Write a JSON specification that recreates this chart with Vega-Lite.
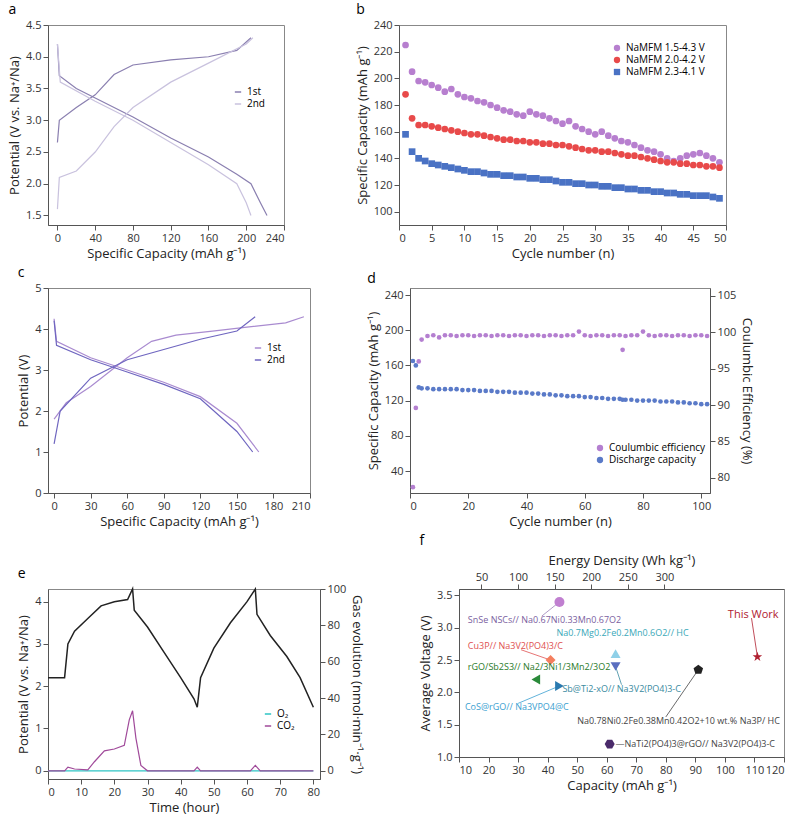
{
"$schema":"https://vega.github.io/schema/vega-lite/v6.json",
"padding":{"left":8,"top":2,"right":2,"bottom":2},
"spacing":4,
"resolve":{"scale":{"color":"independent","shape":"independent"}},
"config":{"font":"Open Sans","view":{"stroke":"#888"},"axis":{"grid":false,"labelFontSize":11,"titleFontSize":13,"titleFontWeight":"normal","tickColor":"#555","domainColor":"#555","labelColor":"#333","titleColor":"#222","titlePadding":4},"title":{"fontSize":14,"fontWeight":"normal","anchor":"start","offset":2},"legend":{"labelFontSize":10,"symbolSize":40,"rowPadding":2}},
"datasets":{
"a":[
{"s":"1st","g":"1c","o":0,"x":0,"y":2.65},{"s":"1st","g":"1c","o":1,"x":2,"y":3.0},{"s":"1st","g":"1c","o":2,"x":20,"y":3.2},{"s":"1st","g":"1c","o":3,"x":40,"y":3.4},{"s":"1st","g":"1c","o":4,"x":60,"y":3.72},{"s":"1st","g":"1c","o":5,"x":80,"y":3.87},{"s":"1st","g":"1c","o":6,"x":120,"y":3.95},{"s":"1st","g":"1c","o":7,"x":160,"y":4.0},{"s":"1st","g":"1c","o":8,"x":190,"y":4.1},{"s":"1st","g":"1c","o":9,"x":205,"y":4.3},
{"s":"1st","g":"1d","o":0,"x":0,"y":4.2},{"s":"1st","g":"1d","o":1,"x":2,"y":3.7},{"s":"1st","g":"1d","o":2,"x":20,"y":3.5},{"s":"1st","g":"1d","o":3,"x":40,"y":3.35},{"s":"1st","g":"1d","o":4,"x":80,"y":3.05},{"s":"1st","g":"1d","o":5,"x":120,"y":2.72},{"s":"1st","g":"1d","o":6,"x":160,"y":2.42},{"s":"1st","g":"1d","o":7,"x":190,"y":2.15},{"s":"1st","g":"1d","o":8,"x":205,"y":2.0},{"s":"1st","g":"1d","o":9,"x":215,"y":1.7},{"s":"1st","g":"1d","o":10,"x":222,"y":1.5},
{"s":"2nd","g":"2c","o":0,"x":0,"y":1.6},{"s":"2nd","g":"2c","o":1,"x":2,"y":2.1},{"s":"2nd","g":"2c","o":2,"x":20,"y":2.2},{"s":"2nd","g":"2c","o":3,"x":40,"y":2.5},{"s":"2nd","g":"2c","o":4,"x":60,"y":2.9},{"s":"2nd","g":"2c","o":5,"x":80,"y":3.2},{"s":"2nd","g":"2c","o":6,"x":120,"y":3.6},{"s":"2nd","g":"2c","o":7,"x":160,"y":3.9},{"s":"2nd","g":"2c","o":8,"x":200,"y":4.2},{"s":"2nd","g":"2c","o":9,"x":207,"y":4.3},
{"s":"2nd","g":"2d","o":0,"x":0,"y":4.2},{"s":"2nd","g":"2d","o":1,"x":3,"y":3.6},{"s":"2nd","g":"2d","o":2,"x":40,"y":3.3},{"s":"2nd","g":"2d","o":3,"x":80,"y":3.0},{"s":"2nd","g":"2d","o":4,"x":120,"y":2.65},{"s":"2nd","g":"2d","o":5,"x":160,"y":2.3},{"s":"2nd","g":"2d","o":6,"x":190,"y":2.0},{"s":"2nd","g":"2d","o":7,"x":200,"y":1.7},{"s":"2nd","g":"2d","o":8,"x":205,"y":1.5}],
"c":[
{"s":"1st","g":"1c","o":0,"x":0,"y":1.8},{"s":"1st","g":"1c","o":1,"x":10,"y":2.2},{"s":"1st","g":"1c","o":2,"x":30,"y":2.6},{"s":"1st","g":"1c","o":3,"x":60,"y":3.3},{"s":"1st","g":"1c","o":4,"x":80,"y":3.7},{"s":"1st","g":"1c","o":5,"x":100,"y":3.85},{"s":"1st","g":"1c","o":6,"x":130,"y":3.95},{"s":"1st","g":"1c","o":7,"x":160,"y":4.05},{"s":"1st","g":"1c","o":8,"x":190,"y":4.15},{"s":"1st","g":"1c","o":9,"x":205,"y":4.3},
{"s":"1st","g":"1d","o":0,"x":0,"y":4.25},{"s":"1st","g":"1d","o":1,"x":2,"y":3.7},{"s":"1st","g":"1d","o":2,"x":30,"y":3.3},{"s":"1st","g":"1d","o":3,"x":60,"y":3.0},{"s":"1st","g":"1d","o":4,"x":90,"y":2.7},{"s":"1st","g":"1d","o":5,"x":120,"y":2.35},{"s":"1st","g":"1d","o":6,"x":150,"y":1.7},{"s":"1st","g":"1d","o":7,"x":168,"y":1.0},
{"s":"2nd","g":"2c","o":0,"x":0,"y":1.2},{"s":"2nd","g":"2c","o":1,"x":5,"y":2.0},{"s":"2nd","g":"2c","o":2,"x":30,"y":2.8},{"s":"2nd","g":"2c","o":3,"x":60,"y":3.25},{"s":"2nd","g":"2c","o":4,"x":90,"y":3.5},{"s":"2nd","g":"2c","o":5,"x":120,"y":3.75},{"s":"2nd","g":"2c","o":6,"x":150,"y":3.95},{"s":"2nd","g":"2c","o":7,"x":165,"y":4.3},
{"s":"2nd","g":"2d","o":0,"x":0,"y":4.2},{"s":"2nd","g":"2d","o":1,"x":2,"y":3.6},{"s":"2nd","g":"2d","o":2,"x":30,"y":3.25},{"s":"2nd","g":"2d","o":3,"x":60,"y":2.95},{"s":"2nd","g":"2d","o":4,"x":90,"y":2.65},{"s":"2nd","g":"2d","o":5,"x":120,"y":2.3},{"s":"2nd","g":"2d","o":6,"x":150,"y":1.5},{"s":"2nd","g":"2d","o":7,"x":163,"y":1.0}],
"b":[
{"n":1,"p":225,"r":188,"b":158},{"n":2,"p":205,"r":170,"b":145},{"n":3,"p":198,"r":165,"b":140},{"n":4,"p":197,"r":165,"b":138},{"n":5,"p":195,"r":164,"b":136},{"n":6,"p":193,"r":163,"b":135},{"n":7,"p":190,"r":162,"b":134},{"n":8,"p":192,"r":161,"b":133},{"n":9,"p":188,"r":160,"b":132},{"n":10,"p":186,"r":159,"b":131},
{"n":11,"p":185,"r":158,"b":130},{"n":12,"p":183,"r":158,"b":130},{"n":13,"p":182,"r":157,"b":129},{"n":14,"p":180,"r":156,"b":128},{"n":15,"p":178,"r":155,"b":128},{"n":16,"p":176,"r":154,"b":127},{"n":17,"p":175,"r":154,"b":127},{"n":18,"p":173,"r":153,"b":126},{"n":19,"p":172,"r":153,"b":126},{"n":20,"p":175,"r":152,"b":125},
{"n":21,"p":173,"r":152,"b":125},{"n":22,"p":172,"r":151,"b":124},{"n":23,"p":170,"r":151,"b":124},{"n":24,"p":168,"r":150,"b":123},{"n":25,"p":166,"r":150,"b":122},{"n":26,"p":168,"r":149,"b":122},{"n":27,"p":164,"r":148,"b":121},{"n":28,"p":162,"r":147,"b":121},{"n":29,"p":160,"r":146,"b":120},{"n":30,"p":158,"r":146,"b":120},
{"n":31,"p":160,"r":145,"b":119},{"n":32,"p":157,"r":145,"b":119},{"n":33,"p":155,"r":144,"b":118},{"n":34,"p":153,"r":143,"b":118},{"n":35,"p":152,"r":142,"b":117},{"n":36,"p":150,"r":142,"b":117},{"n":37,"p":148,"r":141,"b":116},{"n":38,"p":146,"r":140,"b":116},{"n":39,"p":145,"r":139,"b":115},{"n":40,"p":143,"r":138,"b":115},
{"n":41,"p":140,"r":137,"b":114},{"n":42,"p":138,"r":137,"b":114},{"n":43,"p":140,"r":136,"b":113},{"n":44,"p":142,"r":136,"b":113},{"n":45,"p":143,"r":135,"b":112},{"n":46,"p":144,"r":135,"b":112},{"n":47,"p":142,"r":134,"b":112},{"n":48,"p":140,"r":134,"b":111},{"n":49,"p":137,"r":133,"b":110}],
"e":[
{"o":0,"t":0,"v":2.2},{"o":1,"t":5,"v":2.2},{"o":2,"t":6,"v":3.0},{"o":3,"t":8,"v":3.3},{"o":4,"t":12,"v":3.6},{"o":5,"t":16,"v":3.9},{"o":6,"t":20,"v":4.0},{"o":7,"t":24,"v":4.05},{"o":8,"t":25.5,"v":4.3},{"o":9,"t":26,"v":3.8},{"o":10,"t":30,"v":3.4},{"o":11,"t":35,"v":2.8},{"o":12,"t":40,"v":2.2},{"o":13,"t":44,"v":1.7},{"o":14,"t":45,"v":1.5},{"o":15,"t":46,"v":2.2},{"o":16,"t":50,"v":2.9},{"o":17,"t":55,"v":3.5},{"o":18,"t":60,"v":4.0},{"o":19,"t":62.5,"v":4.3},{"o":20,"t":63,"v":3.7},{"o":21,"t":67,"v":3.2},{"o":22,"t":72,"v":2.7},{"o":23,"t":76,"v":2.2},{"o":24,"t":80,"v":1.5}],
"g":[
{"s":"O₂","o":0,"t":0,"v":0},{"s":"O₂","o":1,"t":80,"v":0},
{"s":"CO₂","o":0,"t":0,"v":0},{"s":"CO₂","o":1,"t":5,"v":0},{"s":"CO₂","o":2,"t":6,"v":2},{"s":"CO₂","o":3,"t":8,"v":1},{"s":"CO₂","o":4,"t":12,"v":0.5},{"s":"CO₂","o":5,"t":14,"v":5},{"s":"CO₂","o":6,"t":17,"v":11},{"s":"CO₂","o":7,"t":20,"v":12},{"s":"CO₂","o":8,"t":23,"v":14},{"s":"CO₂","o":9,"t":24.5,"v":28},{"s":"CO₂","o":10,"t":25.5,"v":33},{"s":"CO₂","o":11,"t":26.5,"v":18},{"s":"CO₂","o":12,"t":28,"v":3},{"s":"CO₂","o":13,"t":30,"v":0},{"s":"CO₂","o":14,"t":44,"v":0},{"s":"CO₂","o":15,"t":45,"v":2},{"s":"CO₂","o":16,"t":46,"v":0},{"s":"CO₂","o":17,"t":61,"v":0},{"s":"CO₂","o":18,"t":62.5,"v":3},{"s":"CO₂","o":19,"t":64,"v":0},{"s":"CO₂","o":20,"t":80,"v":0}],
"f":[
{"k":"a","x":44,"y":3.4,"sh":"circle","c":"#c07fd0","l":"SnSe NSCs// Na0.67Ni0.33Mn0.67O2","lx":13,"ly":3.12,"lc":"#7a60a0"},
{"k":"b","x":41,"y":2.5,"sh":"diamond","c":"#f47f5f","l":"Cu3P// Na3V2(PO4)3/C","lx":13,"ly":2.72,"lc":"#e05050"},
{"k":"c","x":63,"y":2.6,"sh":"triangle-up","c":"#8fd0e8","l":"Na0.7Mg0.2Fe0.2Mn0.6O2// HC","lx":43,"ly":2.92,"lc":"#3aa8b8"},
{"k":"d","x":63,"y":2.4,"sh":"triangle-down","c":"#5a6fc0","l":"Sb@Ti2-xO// Na3V2(PO4)3-C","lx":45,"ly":2.06,"lc":"#3a8aa0"},
{"k":"e","x":36,"y":2.2,"sh":"triangle-left","c":"#2a8a3a","l":"rGO/Sb2S3// Na2/3Ni1/3Mn2/3O2","lx":13,"ly":2.4,"lc":"#2a7a2a"},
{"k":"f","x":44,"y":2.1,"sh":"triangle-right","c":"#2a7ab0","l":"CoS@rGO// Na3VPO4@C","lx":12,"ly":1.78,"lc":"#3aa0d0"},
{"k":"g","x":91,"y":2.35,"sh":"M-0.95,-0.31L0,-1L0.95,-0.31L0.59,0.81L-0.59,0.81Z","c":"#222222","l":"Na0.78Ni0.2Fe0.38Mn0.42O2+10 wt.% Na3P/ HC","lx":50,"ly":1.55,"lc":"#444444"},
{"k":"h","x":61,"y":1.2,"sh":"M1,0L0.5,0.87L-0.5,0.87L-1,0L-0.5,-0.87L0.5,-0.87Z","c":"#4a2a6a","l":"—NaTi2(PO4)3@rGO// Na3V2(PO4)3-C","lx":63,"ly":1.2,"lc":"#444444"},
{"k":"i","x":111,"y":2.55,"sh":"M0,-1L0.24,-0.32L0.95,-0.31L0.38,0.12L0.59,0.81L0,0.4L-0.59,0.81L-0.38,0.12L-0.95,-0.31L-0.24,-0.32Z","c":"#b02030","l":"This Work","lx":101,"ly":3.2,"lc":"#b02030"}],
"fl":[
{"k":"a","x":44,"y":3.4,"o":0},{"k":"a","x":38,"y":3.18,"o":1},
{"k":"b","x":41,"y":2.5,"o":0},{"k":"b","x":31,"y":2.66,"o":1},
{"k":"d","x":63,"y":2.4,"o":0},{"k":"d","x":65,"y":2.12,"o":1},
{"k":"f","x":44,"y":2.1,"o":0},{"k":"f","x":30,"y":1.83,"o":1},
{"k":"g","x":91,"y":2.35,"o":0},{"k":"g","x":80,"y":1.62,"o":1},
{"k":"i","x":111,"y":2.55,"o":0},{"k":"i","x":109,"y":3.15,"o":1}]
},
"vconcat":[
{"spacing":70,"resolve":{"scale":{"color":"independent","shape":"independent"}},"hconcat":[
{"title":"a","width":236,"height":200,"data":{"name":"a"},"mark":{"type":"line","strokeWidth":1.2},
"encoding":{"x":{"field":"x","type":"quantitative","scale":{"domain":[-10,240]},"axis":{"values":[0,40,80,120,160,200,240]},"title":"Specific Capacity (mAh g⁻¹)"},
"y":{"field":"y","type":"quantitative","scale":{"domain":[1.35,4.5]},"axis":{"values":[1.5,2,2.5,3,3.5,4,4.5],"format":".1f"},"title":"Potential (V vs. Na⁺/Na)"},
"color":{"field":"s","type":"nominal","scale":{"domain":["1st","2nd"],"range":["#8a7fb0","#c9c2de"]},"legend":{"orient":"none","legendX":185,"legendY":62,"title":null,"symbolType":"stroke"}},
"detail":{"field":"g"},"order":{"field":"o"}}},
{"title":"b","width":327,"height":200,"data":{"name":"b"},
"transform":[{"fold":["p","r","b"],"as":["k","v"]}],
"mark":{"type":"point","filled":true,"size":45,"opacity":1},
"encoding":{"x":{"field":"n","type":"quantitative","scale":{"domain":[0,50]},"axis":{"values":[0,5,10,15,20,25,30,35,40,45,50]},"title":"Cycle number (n)"},
"y":{"field":"v","type":"quantitative","scale":{"domain":[90,240]},"axis":{"values":[100,120,140,160,180,200,220,240]},"title":"Specific Capacity (mAh g⁻¹)"},
"color":{"field":"k","type":"nominal","scale":{"domain":["p","r","b"],"range":["#b77fcf","#e84a4a","#4a72c4"]},"legend":{"orient":"top-right","title":null,"labelExpr":"datum.value=='p'?'NaMFM  1.5-4.3 V':datum.value=='r'?'NaMFM  2.0-4.2 V':'NaMFM  2.3-4.1 V'"}},
"shape":{"field":"k","type":"nominal","scale":{"domain":["p","r","b"],"range":["circle","circle","square"]},"legend":null}}}
]},
{"spacing":55,"resolve":{"scale":{"color":"independent","shape":"independent"}},"hconcat":[
{"title":"c","width":262,"height":205,"data":{"name":"c"},"mark":{"type":"line","strokeWidth":1.2},
"encoding":{"x":{"field":"x","type":"quantitative","scale":{"domain":[-5,210]},"axis":{"values":[0,30,60,90,120,150,180,210]},"title":"Specific Capacity (mAh g⁻¹)"},
"y":{"field":"y","type":"quantitative","scale":{"domain":[0,5]},"axis":{"values":[0,1,2,3,4,5]},"title":"Potential (V)"},
"color":{"field":"s","type":"nominal","scale":{"domain":["1st","2nd"],"range":["#a98bd0","#6f66c0"]},"legend":{"orient":"none","legendX":205,"legendY":55,"title":null,"symbolType":"stroke"}},
"detail":{"field":"g"},"order":{"field":"o"}}},
{"title":"d","width":300,"height":205,"data":{"values":[
{"n":1,"ce":78.7,"q":165},{"n":2,"ce":89.6,"q":160},{"n":3,"ce":96,"q":135},{"n":4,"ce":99,"q":134},{"n":6,"ce":99.5,"q":134},{"n":8,"ce":99.6,"q":133},{"n":10,"ce":99.3,"q":133},{"n":12,"ce":99.6,"q":133},{"n":14,"ce":99.6,"q":133},{"n":16,"ce":99.5,"q":133},{"n":18,"ce":99.6,"q":132},{"n":20,"ce":99.6,"q":132},{"n":22,"ce":99.5,"q":132},{"n":24,"ce":99.6,"q":131},{"n":26,"ce":99.6,"q":131},{"n":28,"ce":99.5,"q":131},{"n":30,"ce":99.6,"q":130},{"n":32,"ce":99.6,"q":130},{"n":34,"ce":99.5,"q":130},{"n":36,"ce":99.6,"q":129},{"n":38,"ce":99.6,"q":129},{"n":40,"ce":99.5,"q":129},{"n":42,"ce":99.6,"q":128},{"n":44,"ce":99.6,"q":128},{"n":46,"ce":99.5,"q":127},{"n":48,"ce":99.6,"q":127},{"n":50,"ce":99.6,"q":126},{"n":52,"ce":99.5,"q":126},{"n":54,"ce":99.6,"q":125},{"n":56,"ce":99.6,"q":125},{"n":58,"ce":100.1,"q":125},{"n":60,"ce":99.6,"q":124},{"n":62,"ce":99.5,"q":124},{"n":64,"ce":99.6,"q":123},{"n":66,"ce":99.6,"q":123},{"n":68,"ce":99.5,"q":122},{"n":70,"ce":99.6,"q":122},{"n":72,"ce":99.6,"q":122},{"n":73,"ce":97.6,"q":121},{"n":74,"ce":99.5,"q":121},{"n":76,"ce":99.6,"q":121},{"n":78,"ce":99.6,"q":120},{"n":80,"ce":100.1,"q":120},{"n":82,"ce":99.6,"q":120},{"n":84,"ce":99.5,"q":120},{"n":86,"ce":99.6,"q":119},{"n":88,"ce":99.6,"q":119},{"n":90,"ce":99.5,"q":119},{"n":92,"ce":99.6,"q":118},{"n":94,"ce":99.6,"q":118},{"n":96,"ce":99.5,"q":117},{"n":98,"ce":99.6,"q":117},{"n":100,"ce":99.6,"q":116},{"n":102,"ce":99.5,"q":116}]},
"encoding":{"x":{"field":"n","type":"quantitative","scale":{"domain":[0,103]},"axis":{"values":[0,20,40,60,80,100]},"title":"Cycle number (n)"}},
"layer":[
{"mark":{"type":"circle","size":22,"opacity":1},"encoding":{"y":{"field":"q","type":"quantitative","scale":{"domain":[15,248]},"axis":{"values":[40,80,120,160,200,240]},"title":"Specific Capacity (mAh g⁻¹)"},"color":{"datum":"Discharge capacity","type":"nominal","scale":{"domain":["Coulumbic efficiency","Discharge capacity"],"range":["#b47fd0","#5a7ac8"]},"legend":{"orient":"none","legendX":185,"legendY":155,"title":null,"symbolType":"circle"}}}},
{"mark":{"type":"circle","size":22,"opacity":1},"encoding":{"y":{"field":"ce","type":"quantitative","scale":{"domain":[77.9,106.1]},"axis":{"orient":"right","values":[80,85,90,95,100,105]},"title":"Coulumbic Efficiency (%)"},"color":{"datum":"Coulumbic efficiency","type":"nominal"}}}],
"resolve":{"scale":{"y":"independent"}}}
]},
{"spacing":55,"resolve":{"scale":{"color":"independent","shape":"independent"}},"hconcat":[
{"title":"e","width":272,"height":190,
"encoding":{"x":{"field":"t","type":"quantitative","scale":{"domain":[0,82]},"axis":{"values":[0,10,20,30,40,50,60,70,80]},"title":"Time (hour)"}},
"layer":[
{"data":{"name":"e"},"mark":{"type":"line","color":"#222","strokeWidth":1.5},"encoding":{"y":{"field":"v","type":"quantitative","scale":{"domain":[-0.2,4.3]},"axis":{"values":[0,1,2,3,4]},"title":"Potential (V vs. Na⁺/Na)"},"order":{"field":"o"}}},
{"data":{"name":"g"},"mark":{"type":"line","strokeWidth":1.2},"encoding":{"y":{"field":"v","type":"quantitative","scale":{"domain":[-4.5,100]},"axis":{"orient":"right","values":[0,20,40,60,80,100]},"title":"Gas evolution (nmol·min⁻¹·g⁻¹)"},"order":{"field":"o"},"color":{"field":"s","type":"nominal","scale":{"domain":["O₂","CO₂"],"range":["#2ec4c4","#a04a9a"]},"legend":{"orient":"none","legendX":215,"legendY":120,"title":null,"symbolType":"stroke"}}}}],
"resolve":{"scale":{"y":"independent"}}},
{"title":{"text":"f","dy":-4},"width":325,"height":168,
"layer":[
{"data":{"name":"f"},"mark":{"type":"point","opacity":0},"encoding":{"x":{"field":"x","type":"quantitative","scale":{"domain":[19.3,463.6]},"axis":{"orient":"top","values":[50,100,150,200,250,300],"title":"Energy Density (Wh kg⁻¹)"}}}},
{"layer":[
{"data":{"name":"fl"},"mark":{"type":"line","strokeWidth":0.8},"encoding":{"x":{"field":"x","type":"quantitative"},"y":{"field":"y","type":"quantitative"},"detail":{"field":"k"},"order":{"field":"o"},"color":{"field":"k","type":"nominal","scale":{"domain":["a","b","d","f","g","i"],"range":["#9a80b8","#e05050","#3a8aa0","#3aa0d0","#444444","#b02030"]},"legend":null}}},
{"data":{"name":"f"},"mark":{"type":"point","filled":true,"opacity":1,"size":100},"encoding":{"x":{"field":"x","type":"quantitative"},"y":{"field":"y","type":"quantitative"},"shape":{"field":"sh","type":"nominal","scale":null},"fill":{"field":"c","type":"nominal","scale":null}}},
{"data":{"name":"f"},"mark":{"type":"text","fontSize":9,"align":"left"},"encoding":{"x":{"field":"lx","type":"quantitative"},"y":{"field":"ly","type":"quantitative"},"text":{"field":"l"},"fill":{"field":"lc","type":"nominal","scale":null},"fontWeight":{"condition":{"test":"datum.k==='i'","value":"bold"},"value":"normal"},"size":{"condition":{"test":"datum.k==='i'","value":11},"value":9}}}],
"encoding":{"x":{"type":"quantitative","scale":{"domain":[10,120]},"axis":{"values":[10,20,30,40,50,60,70,80,90,100,110,120]},"title":"Capacity (mAh g⁻¹)"},"y":{"type":"quantitative","scale":{"domain":[1.0,3.6]},"axis":{"values":[1,1.5,2,2.5,3,3.5],"format":".1f"},"title":"Average Voltage (V)"}}}],
"resolve":{"scale":{"x":"independent"}}}
]}
]
}
